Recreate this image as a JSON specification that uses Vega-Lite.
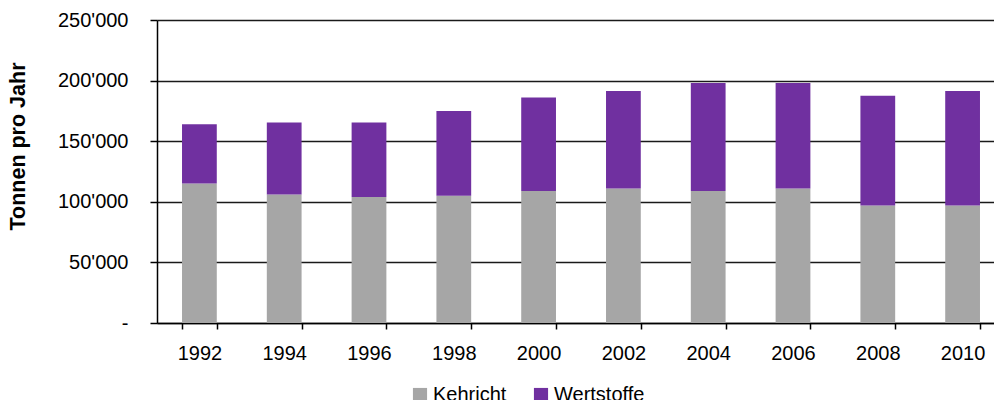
{
  "$schema": "https://vega.github.io/schema/vega-lite/v6.json",
  "autosize": "none",
  "padding": {"left": 157, "top": 20, "right": 0, "bottom": 77},
  "width": 848,
  "height": 303,
  "background": "white",
  "config": {
    "font": "Liberation Sans",
    "view": {"stroke": null}
  },
  "data": {
    "values": [
      {"Jahr": "1992", "Art": "Kehricht", "Reihe": 1, "Tonnen": 115000},
      {"Jahr": "1992", "Art": "Wertstoffe", "Reihe": 2, "Tonnen": 49000},
      {"Jahr": "1994", "Art": "Kehricht", "Reihe": 1, "Tonnen": 106000},
      {"Jahr": "1994", "Art": "Wertstoffe", "Reihe": 2, "Tonnen": 59500},
      {"Jahr": "1996", "Art": "Kehricht", "Reihe": 1, "Tonnen": 104000},
      {"Jahr": "1996", "Art": "Wertstoffe", "Reihe": 2, "Tonnen": 61500},
      {"Jahr": "1998", "Art": "Kehricht", "Reihe": 1, "Tonnen": 105000},
      {"Jahr": "1998", "Art": "Wertstoffe", "Reihe": 2, "Tonnen": 70000},
      {"Jahr": "2000", "Art": "Kehricht", "Reihe": 1, "Tonnen": 109000},
      {"Jahr": "2000", "Art": "Wertstoffe", "Reihe": 2, "Tonnen": 77000},
      {"Jahr": "2002", "Art": "Kehricht", "Reihe": 1, "Tonnen": 111000},
      {"Jahr": "2002", "Art": "Wertstoffe", "Reihe": 2, "Tonnen": 80500},
      {"Jahr": "2004", "Art": "Kehricht", "Reihe": 1, "Tonnen": 109000},
      {"Jahr": "2004", "Art": "Wertstoffe", "Reihe": 2, "Tonnen": 89000},
      {"Jahr": "2006", "Art": "Kehricht", "Reihe": 1, "Tonnen": 111000},
      {"Jahr": "2006", "Art": "Wertstoffe", "Reihe": 2, "Tonnen": 87000},
      {"Jahr": "2008", "Art": "Kehricht", "Reihe": 1, "Tonnen": 97000},
      {"Jahr": "2008", "Art": "Wertstoffe", "Reihe": 2, "Tonnen": 90500},
      {"Jahr": "2010", "Art": "Kehricht", "Reihe": 1, "Tonnen": 97000},
      {"Jahr": "2010", "Art": "Wertstoffe", "Reihe": 2, "Tonnen": 94500}
    ]
  },
  "mark": {"type": "bar"},
  "encoding": {
    "x": {
      "field": "Jahr",
      "type": "ordinal",
      "scale": {"paddingInner": 0.59, "paddingOuter": 0.295},
      "axis": {
        "title": null,
        "labelAngle": 0,
        "labelFontSize": 20,
        "labelColor": "#000000",
        "labelPadding": 14,
        "tickBand": "extent",
        "tickSize": 6,
        "tickColor": "#000000",
        "tickWidth": 1.5,
        "domainColor": "#000000",
        "domainWidth": 1.5,
        "grid": false
      }
    },
    "y": {
      "field": "Tonnen",
      "type": "quantitative",
      "stack": "zero",
      "scale": {"domain": [0, 250000]},
      "axis": {
        "title": "Tonnen pro Jahr",
        "titleFontSize": 21.5,
        "titleFontWeight": "bold",
        "titleColor": "#000000",
        "titleAngle": -90,
        "titleX": -139,
        "titleY": 126,
        "titleAlign": "center",
        "titleBaseline": "middle",
        "values": [0, 50000, 100000, 150000, 200000, 250000],
        "labelExpr": "datum.value == 0 ? '-\u2007' : replace(format(datum.value, ','), /,/g, \"'\")",
        "labelFontSize": 20,
        "labelColor": "#000000",
        "labelPadding": 22,
        "tickSize": 7,
        "tickColor": "#000000",
        "tickWidth": 1.5,
        "domainColor": "#000000",
        "domainWidth": 1.5,
        "grid": true,
        "gridColor": "#1a1a1a",
        "gridWidth": 1.5
      }
    },
    "order": {"field": "Reihe", "type": "quantitative", "sort": "ascending"},
    "color": {
      "field": "Art",
      "type": "nominal",
      "scale": {"domain": ["Kehricht", "Wertstoffe"], "range": ["#A6A6A6", "#7030A0"]},
      "legend": {
        "title": null,
        "orient": "none",
        "legendX": 253,
        "legendY": 365,
        "direction": "horizontal",
        "symbolType": "square",
        "symbolSize": 200,
        "symbolStrokeWidth": 0,
        "labelFontSize": 20,
        "labelColor": "#000000",
        "labelOffset": 3,
        "columnPadding": 24
      }
    }
  }
}
